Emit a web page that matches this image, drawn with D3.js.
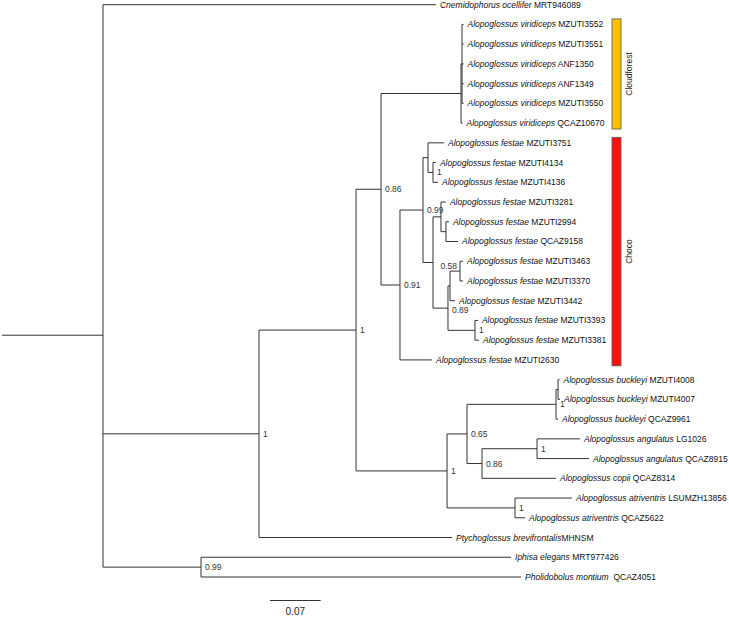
<!DOCTYPE html>
<html><head><meta charset="utf-8">
<script src="https://cdn.jsdelivr.net/npm/d3@7"></script>
<style>body{margin:0;background:#fff}svg{display:block}</style>
</head><body>
<svg id="chart" width="729" height="618"></svg>
<script>
// ---------- data ----------
const taxa = [
  "Cnemidophorus ocellifer",
  "Alopoglossus viridiceps","Alopoglossus viridiceps","Alopoglossus viridiceps",
  "Alopoglossus viridiceps","Alopoglossus viridiceps","Alopoglossus viridiceps",
  "Alopoglossus festae","Alopoglossus festae","Alopoglossus festae","Alopoglossus festae",
  "Alopoglossus festae","Alopoglossus festae","Alopoglossus festae","Alopoglossus festae",
  "Alopoglossus festae","Alopoglossus festae","Alopoglossus festae","Alopoglossus festae",
  "Alopoglossus buckleyi","Alopoglossus buckleyi","Alopoglossus buckleyi",
  "Alopoglossus angulatus","Alopoglossus angulatus",
  "Alopoglossus copii",
  "Alopoglossus atriventris","Alopoglossus atriventris",
  "Ptychoglossus brevifrontalis",
  "Iphisa elegans",
  "Pholidobolus montium"
];
const vouchers = [
  "MRT946089",
  "MZUTI3552","MZUTI3551","ANF1350","ANF1349","MZUTI3550","QCAZ10670",
  "MZUTI3751","MZUTI4134","MZUTI4136","MZUTI3281","MZUTI2994","QCAZ9158",
  "MZUTI3463","MZUTI3370","MZUTI3442","MZUTI3393","MZUTI3381","MZUTI2630",
  "MZUTI4008","MZUTI4007","QCAZ9961",
  "LG1026","QCAZ8915",
  "QCAZ8314",
  "LSUMZH13856","QCAZ5622",
  "MHNSM",
  "MRT977426",
  "QCAZ4051"
];
const labelSeparators = [" "," "," "," "," "," "," "," "," "," "," "," "," "," "," "," "," "," "," "," "," "," "," "," "," "," "," ","", " ","  "];
// tree: tips t0..t29 index the arrays above; internal labels = support, after ':' = branch length
const treeNewick = "(t0:0.4599,(((((t1:0.0021,t2:0.0021,t3:0.0021,t4:0.0021,t5:0.0021):0.0014,t6:0.0021):0.1105,(((t7:0.0221,(t8:0.0041,t9:0.0069)1:0.0069):0.0069,((t10:0.0069,(t11:0.0041,t12:0.0166):0.0069):0.011,(((t13:0.0041,t14:0.0041)0.58:0.0138,t15:0.0069):0.0028,(t16:0.0041,t17:0.0055)1:0.0373)0.89:0.0207):0.0138)0.99:0.0318,t18:0.0442)0.91:0.0262)0.86:0.0345,((((t19:0.0021,t20:0.0028):0.0028,t21:0.0028)1:0.1229,((t22:0.0594,t23:0.0718)1:0.076,t24:0.1022)0.86:0.0207)0.65:0.0276,(t25:0.0787,t26:0.0138)1:0.0939)1:0.1257)1:0.134,t27:0.2666)1:0.2155,(t28:0.4282,t29:0.442)0.99:0.1354):0.1395;";
const cladeNames = ["Cloudforest", "Choco"];
const cladeFirstTip = [1, 7];
const cladeLastTip = [6, 18];
const cladeColors = ["#FFC000", "#FF1010"];
const scaleBarValue = 0.07;
const scaleBarLabel = "0.07";

// ---------- parse ----------
function parseNewick(s) {
  let i = 0;
  function node() {
    const n = { children: [] };
    if (s[i] === "(") {
      i++;
      n.children.push(node());
      while (s[i] === ",") { i++; n.children.push(node()); }
      i++;
    }
    let tok = "";
    while (i < s.length && !",();".includes(s[i])) tok += s[i++];
    const parts = tok.split(":");
    n.label = parts[0];
    n.len = parts.length > 1 ? +parts[1] : 0;
    return n;
  }
  return node();
}
const rootData = parseNewick(treeNewick);
const root = d3.hierarchy(rootData, d => d.children.length ? d.children : null);

// ---------- scales ----------
const pxPerUnit = 724;
const x = d3.scaleLinear().domain([0, 1]).range([2, 2 + pxPerUnit]);
const leaves = root.leaves();
const y = d3.scaleLinear().domain([0, leaves.length - 1]).range([4.7, 577]);

root.eachBefore(n => { n.dist = (n.parent ? n.parent.dist : 0) + n.data.len; });
leaves.forEach((l, i) => { l.tip = +l.data.label.slice(1); l.yy = y(i); });
root.eachAfter(n => { if (n.children) n.yy = d3.mean(n.children, c => c.yy); });

const svg = d3.select("#chart");
const lineColor = "#333";
const font = "'Liberation Sans', Arial, Helvetica, sans-serif";

// branches
const g = svg.append("g").attr("stroke", lineColor).attr("stroke-width", 1).attr("fill", "none");
g.append("line").attr("x1", x(0)).attr("x2", x(root.dist)).attr("y1", root.yy).attr("y2", root.yy);
root.descendants().forEach(n => {
  if (n.parent) {
    g.append("line").attr("x1", x(n.parent.dist)).attr("x2", x(n.dist)).attr("y1", n.yy).attr("y2", n.yy);
  }
  if (n.children) {
    const c = n.children;
    g.append("line").attr("x1", x(n.dist)).attr("x2", x(n.dist))
      .attr("y1", c[0].yy).attr("y2", c[c.length - 1].yy);
  }
});

// tip labels
const tl = svg.append("g").attr("font-family", font).attr("font-size", 8.5).attr("fill", "#111");
leaves.forEach(l => {
  const t = tl.append("text").attr("x", x(l.dist) + 4).attr("y", l.yy).attr("dy", "0.35em")
    .style("white-space", "pre");
  t.append("tspan").attr("font-style", "italic").text(taxa[l.tip]);
  t.append("tspan").text(labelSeparators[l.tip] + vouchers[l.tip]);
});

// support labels (a few nudged as in the reference)
const leftPlaced = new Set(["0.58"]);
const labelNudgeY = { "0.58": -5, "0.89": 1.5 };
const nl = svg.append("g").attr("font-family", font).attr("font-size", 8.5).attr("fill", "#333");
root.descendants().forEach(n => {
  if (n.children && n.data.label) {
    const left = leftPlaced.has(n.data.label);
    nl.append("text")
      .attr("x", left ? x(n.dist) - 3 : x(n.dist) + 4)
      .attr("y", n.yy + (labelNudgeY[n.data.label] || 0)).attr("dy", "0.35em")
      .attr("text-anchor", left ? "end" : "start")
      .text(n.data.label);
  }
});

// clade bars
const barX = 612, barW = 9;
cladeNames.forEach((name, k) => {
  const y0 = y(cladeFirstTip[k] - 0.28), y1 = y(cladeLastTip[k] + 0.3);
  svg.append("rect").attr("x", barX).attr("y", y0).attr("width", barW).attr("height", y1 - y0)
    .attr("fill", cladeColors[k]).attr("stroke", "#555").attr("stroke-width", 0.8);
  svg.append("text").attr("transform", `translate(${barX + barW + 8},${(y0 + y1) / 2}) rotate(-90)`)
    .attr("text-anchor", "middle").attr("dy", "0.35em")
    .attr("font-family", font).attr("font-size", 8.5).attr("fill", "#222").text(name);
});

// scale bar
const sbX = 270, sbY = 600.5;
svg.append("line").attr("x1", sbX).attr("x2", sbX + (x(scaleBarValue) - x(0)))
  .attr("y1", sbY).attr("y2", sbY).attr("stroke", lineColor).attr("stroke-width", 1);
svg.append("text").attr("x", sbX + (x(scaleBarValue) - x(0)) / 2).attr("y", sbY + 11).attr("dy", "0.35em")
  .attr("text-anchor", "middle").attr("font-family", font).attr("font-size", 10).attr("fill", "#222")
  .text(scaleBarLabel);
</script>
</body></html>
